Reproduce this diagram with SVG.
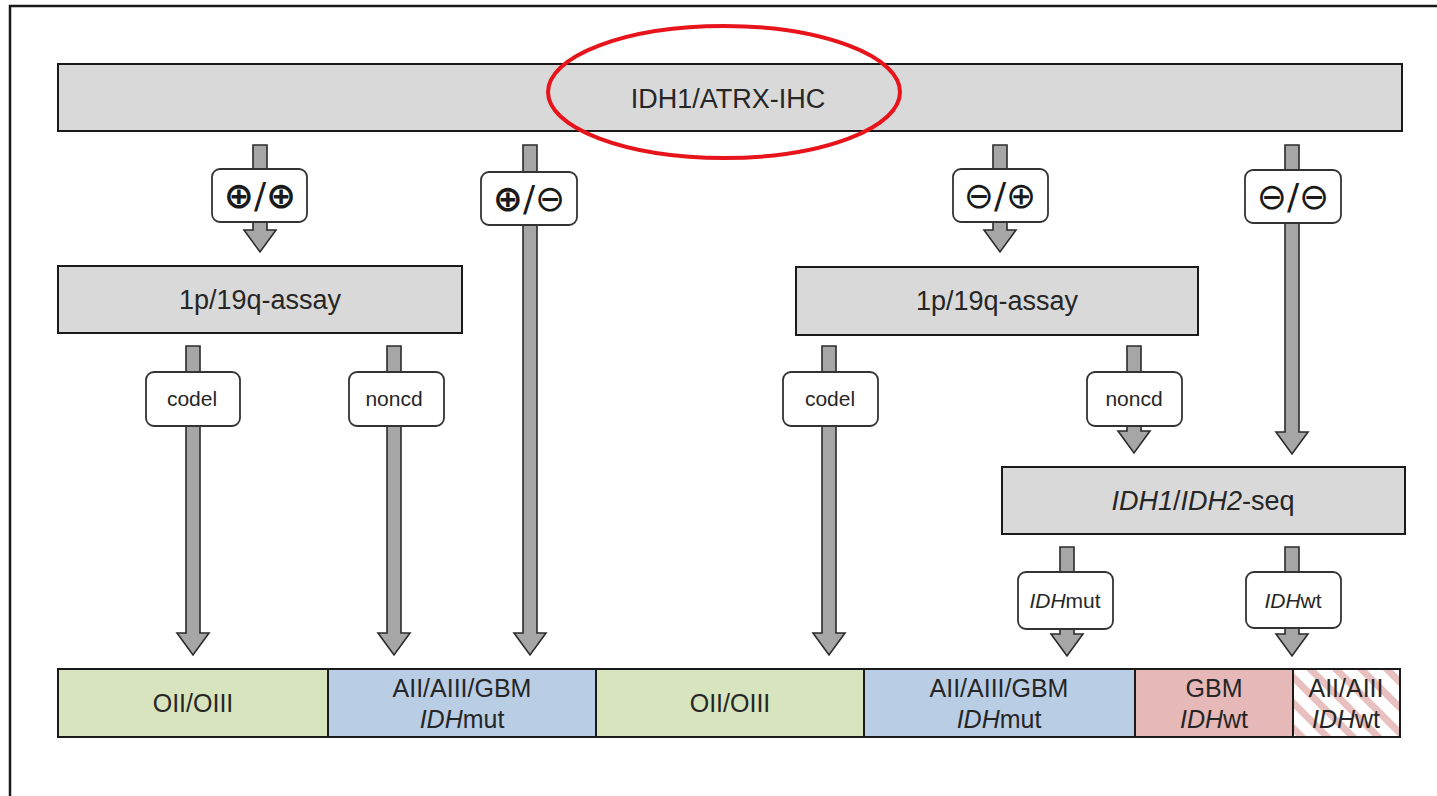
<svg xmlns="http://www.w3.org/2000/svg" width="1437" height="796" viewBox="0 0 1437 796">
<style>
  .bar{fill:#d9d9d9;stroke:#1a1a1a;stroke-width:2}
  .lbl{fill:#ffffff;stroke:#333333;stroke-width:1.8}
  .arr{fill:#a6a6a6;stroke:#2b2b2b;stroke-width:1.6;stroke-linejoin:miter}
  .t{font-family:"Liberation Sans",Arial,sans-serif;fill:#262626;text-anchor:middle}
  .big{font-size:27px}
  .mid{font-size:25px}
  .sm{font-size:21px}
  .sym{font-family:"DejaVu Sans",sans-serif;font-size:36px;fill:#1a1a1a;text-anchor:middle}
  .out{stroke:#1a1a1a;stroke-width:2}
</style>
<defs>
  <pattern id="hatch" patternUnits="userSpaceOnUse" width="18" height="18" patternTransform="rotate(-45)">
    <rect width="18" height="18" fill="#ffffff"/>
    <rect width="7" height="18" fill="#e8c0bf"/>
  </pattern>
</defs>
<rect width="1437" height="796" fill="#ffffff"/>
<path d="M10 796 V6 H1437" fill="none" stroke="#1a1a1a" stroke-width="2.5"/>

<g id="connectors">
  <path class="arr" d="M253 145 H267 V230 H276 L260 252 L244 230 H253 Z"/>
  <path class="arr" d="M523 145 H537 V633 H546 L530 655 L514 633 H523 Z"/>
  <path class="arr" d="M993 145 H1007 V230 H1016 L1000 252 L984 230 H993 Z"/>
  <path class="arr" d="M1285 145 H1299 V432 H1308 L1292 454 L1276 432 H1285 Z"/>
  <path class="arr" d="M186 346 H200 V633 H209 L193 655 L177 633 H186 Z"/>
  <path class="arr" d="M387 346 H401 V633 H410 L394 655 L378 633 H387 Z"/>
  <path class="arr" d="M822 346 H836 V633 H845 L829 655 L813 633 H822 Z"/>
  <path class="arr" d="M1127 346 H1141 V431 H1150 L1134 453 L1118 431 H1127 Z"/>
  <path class="arr" d="M1060 547 H1074 V634 H1083 L1067 656 L1051 634 H1060 Z"/>
  <path class="arr" d="M1285 547 H1299 V634 H1308 L1292 656 L1276 634 H1285 Z"/>
</g>

<g id="ihc">
  <rect class="bar" x="58" y="64" width="1344" height="67"/>
  <text class="t big" x="728" y="108">IDH1/ATRX-IHC</text>
</g>
<ellipse id="highlight" cx="724" cy="92" rx="176" ry="66" fill="none" stroke="#e8141b" stroke-width="4"/>

<g id="lbl-pp">
  <rect class="lbl" x="212" y="169" width="95" height="53" rx="8"/>
  <text class="sym" x="260" y="208"><tspan font-weight="bold">⊕</tspan>/<tspan font-weight="bold">⊕</tspan></text>
</g>
<g id="lbl-pm">
  <rect class="lbl" x="481" y="172" width="96" height="53" rx="8"/>
  <text class="sym" x="529" y="211"><tspan font-weight="bold">⊕</tspan>/⊖</text>
</g>
<g id="lbl-mp">
  <rect class="lbl" x="953" y="169" width="95" height="53" rx="8"/>
  <text class="sym" x="1000" y="208">⊖/⊕</text>
</g>
<g id="lbl-mm">
  <rect class="lbl" x="1245" y="170" width="96" height="53" rx="8"/>
  <text class="sym" x="1293" y="209">⊖/⊖</text>
</g>

<g id="assay-left">
  <rect class="bar" x="58" y="266" width="404" height="67"/>
  <text class="t big" x="260" y="309">1p/19q-assay</text>
</g>
<g id="assay-right">
  <rect class="bar" x="796" y="267" width="402" height="68"/>
  <text class="t big" x="997" y="310">1p/19q-assay</text>
</g>

<g id="lbl-codel-1">
  <rect class="lbl" x="146" y="372" width="94" height="54" rx="8"/>
  <text class="t sm" x="192" y="406">codel</text>
</g>
<g id="lbl-noncd-1">
  <rect class="lbl" x="349" y="372" width="95" height="54" rx="8"/>
  <text class="t sm" x="394" y="406">noncd</text>
</g>
<g id="lbl-codel-2">
  <rect class="lbl" x="783" y="372" width="95" height="54" rx="8"/>
  <text class="t sm" x="830" y="406">codel</text>
</g>
<g id="lbl-noncd-2">
  <rect class="lbl" x="1087" y="372" width="95" height="54" rx="8"/>
  <text class="t sm" x="1134" y="406">noncd</text>
</g>

<g id="seq">
  <rect class="bar" x="1002" y="467" width="403" height="67"/>
  <text class="t big" x="1203" y="510"><tspan font-style="italic">IDH1</tspan>/<tspan font-style="italic">IDH2</tspan>-seq</text>
</g>

<g id="lbl-idhmut">
  <rect class="lbl" x="1018" y="572" width="95" height="57" rx="8"/>
  <text class="t sm" x="1065" y="608"><tspan font-style="italic">IDH</tspan>mut</text>
</g>
<g id="lbl-idhwt">
  <rect class="lbl" x="1246" y="572" width="95" height="56" rx="8"/>
  <text class="t sm" x="1293" y="608"><tspan font-style="italic">IDH</tspan>wt</text>
</g>

<g id="out-1">
  <rect class="out" x="58" y="669" width="270" height="68" fill="#d7e4bd"/>
  <text class="t mid" x="193" y="712">OII/OIII</text>
</g>
<g id="out-2">
  <rect class="out" x="328" y="669" width="268" height="68" fill="#b9cde5"/>
  <text class="t mid" x="462" y="697">AII/AIII/GBM</text>
  <text class="t mid" x="462" y="728"><tspan font-style="italic">IDH</tspan>mut</text>
</g>
<g id="out-3">
  <rect class="out" x="596" y="669" width="268" height="68" fill="#d7e4bd"/>
  <text class="t mid" x="730" y="712">OII/OIII</text>
</g>
<g id="out-4">
  <rect class="out" x="864" y="669" width="271" height="68" fill="#b9cde5"/>
  <text class="t mid" x="999" y="697">AII/AIII/GBM</text>
  <text class="t mid" x="999" y="728"><tspan font-style="italic">IDH</tspan>mut</text>
</g>
<g id="out-5">
  <rect class="out" x="1135" y="669" width="158" height="68" fill="#e6b9b8"/>
  <text class="t mid" x="1214" y="697">GBM</text>
  <text class="t mid" x="1214" y="728"><tspan font-style="italic">IDH</tspan>wt</text>
</g>
<g id="out-6">
  <rect class="out" x="1293" y="669" width="107" height="68" fill="url(#hatch)"/>
  <text class="t mid" x="1346" y="697">AII/AIII</text>
  <text class="t mid" x="1346" y="728"><tspan font-style="italic">IDH</tspan>wt</text>
</g>
</svg>
